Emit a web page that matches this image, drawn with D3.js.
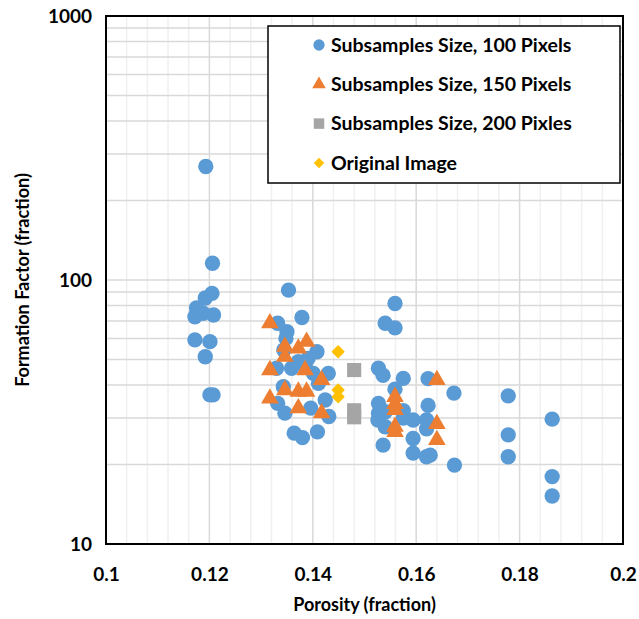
<!DOCTYPE html>
<html>
<head>
<meta charset="utf-8">
<script src="https://cdn.jsdelivr.net/npm/d3@7"></script>
<style>
  html, body { margin: 0; padding: 0; background: #fff; }
  text { font-family: Lato, "Open Sans", sans-serif; font-weight: bold; fill: #000; }
</style>
</head>
<body>
<svg id="chart" width="639" height="619"></svg>
<script>
// Porosity (x) vs formation factor (y) for subsamples of different sizes
const sub100Porosity = [0.1193, 0.1206, 0.1205, 0.1192, 0.1175, 0.1172, 0.1208, 0.1188, 0.1172, 0.1201, 0.1192, 0.1201, 0.1207,
  0.1353, 0.1379, 0.1332, 0.1350, 0.1348, 0.1344, 0.1408, 0.1391, 0.1372, 0.1330, 0.1359, 0.1401, 0.1430, 0.1411, 0.1343,
  0.1332, 0.1346, 0.1396, 0.1424, 0.1431, 0.1364, 0.1380, 0.1409, 0.1385,
  0.1559, 0.1540, 0.1559, 0.1527, 0.1536, 0.1575, 0.1623, 0.1673, 0.1559, 0.1527, 0.1527, 0.1526, 0.1540, 0.1575, 0.1594,
  0.1623, 0.1620, 0.1620, 0.1536, 0.1594, 0.1594, 0.1620, 0.1627, 0.1674, 0.1778, 0.1778, 0.1778, 0.1863, 0.1863, 0.1863,
  0.1575, 0.1540];
const sub100Factor = [269, 115.7, 89.0, 85.5, 78.3, 72.6, 73.7, 74.8, 59.3, 58.4, 51.2, 36.7, 36.7,
  91.6, 72.1, 68.6, 63.7, 60.1, 54.3, 53.5, 50.5, 49.0, 46.3, 46.3, 44.3, 44.3, 40.6, 39.4,
  34.1, 31.3, 32.7, 35.1, 30.4, 26.3, 25.3, 26.6, 47.6,
  81.5, 68.6, 65.9, 46.3, 43.5, 42.4, 42.3, 37.3, 38.6, 34.1, 31.3, 29.5, 27.8, 32.0, 29.5,
  33.5, 29.5, 27.3, 23.7, 25.1, 22.1, 21.4, 21.7, 19.9, 36.4, 25.9, 21.4, 29.7, 18.0, 15.2,
  30.0, 31.7];

const sub150Porosity = [0.1317, 0.1346, 0.1372, 0.1388, 0.1346, 0.1317, 0.1385, 0.1417, 0.1346, 0.1372, 0.1388, 0.1317,
  0.1372, 0.1417, 0.1640, 0.1559, 0.1559, 0.1559, 0.1559, 0.1559, 0.1640, 0.1640];
const sub150Factor = [68.6, 55.9, 55.1, 58.4, 51.2, 45.6, 45.6, 41.8, 38.3, 37.8, 37.8, 35.6,
  32.7, 31.3, 41.8, 36.1, 33.9, 32.2, 27.8, 26.6, 28.5, 24.8];

const sub200Porosity = [0.1480, 0.1480, 0.1480];
const sub200Factor = [45.6, 32.1, 30.2];

const originalPorosity = [0.1449, 0.1449, 0.1449];
const originalFactor = [53.5, 38.3, 36.1];

const seriesNames = ["Subsamples Size, 100 Pixels", "Subsamples Size, 150 Pixels", "Subsamples Size, 200 Pixles", "Original Image"];
const xTicks = [0.1, 0.12, 0.14, 0.16, 0.18, 0.2];
const yTicks = [10, 100, 1000];

const svg = d3.select("#chart");
const plot = { left: 106, right: 623, top: 16, bottom: 544 };

const x = d3.scaleLinear().domain([0.1, 0.2]).range([plot.left, plot.right]);
const y = d3.scaleLog().domain([10, 1000]).range([plot.bottom, plot.top]);

// gridlines
const grid = svg.append("g");
const xMinor = d3.range(0, 26).map(i => 0.1 + i * 0.004).filter(v => v > 0.1001 && v < 0.1999);
grid.selectAll("line.xminor").data(xMinor).join("line")
  .attr("x1", d => x(d)).attr("x2", d => x(d))
  .attr("y1", plot.top).attr("y2", plot.bottom)
  .attr("stroke", d => (Math.abs(Math.round(d * 50) - d * 50) < 1e-6) ? "#d9d9d9" : "#f0f0f0")
  .attr("stroke-width", 1.5);
const yMinor = [];
[10, 100].forEach(dec => { for (let k = 2; k <= 10; k++) yMinor.push(dec * k); });
grid.selectAll("line.yminor").data(yMinor.filter(v => v < 1000)).join("line")
  .attr("x1", plot.left).attr("x2", plot.right)
  .attr("y1", d => y(d)).attr("y2", d => y(d))
  .attr("stroke", "#d9d9d9").attr("stroke-width", 1.5);

// axes (labels only, ticks hidden)
const xAxis = d3.axisBottom(x).tickValues(xTicks).tickSize(0).tickPadding(24)
  .tickFormat(d => d3.format("")(+d.toFixed(2)));
svg.append("g").attr("transform", `translate(0,${plot.bottom})`).call(xAxis)
  .call(g => g.select(".domain").remove())
  .selectAll("text").style("font-size", "19px").attr("font-family", null);

const yAxis = d3.axisLeft(y).tickValues(yTicks).tickSize(0).tickPadding(14)
  .tickFormat(d3.format("d"));
svg.append("g").attr("transform", `translate(${plot.left},0)`).call(yAxis)
  .call(g => g.select(".domain").remove())
  .selectAll("text").style("font-size", "19px").attr("font-family", null);

// plot border
svg.append("rect")
  .attr("x", plot.left).attr("y", plot.top)
  .attr("width", plot.right - plot.left).attr("height", plot.bottom - plot.top)
  .attr("fill", "none").attr("stroke", "#000").attr("stroke-width", 2);

// axis titles
svg.append("text").attr("x", (plot.left + plot.right) / 2).attr("y", 611)
  .attr("text-anchor", "middle").style("font-size", "18px").text("Porosity (fraction)");
svg.append("text").attr("transform", `translate(29,${(plot.top + plot.bottom) / 2}) rotate(-90)`)
  .attr("text-anchor", "middle").style("font-size", "18px").text("Formation Factor (fraction)");

// markers
const series = [
  { xs: sub100Porosity, ys: sub100Factor, shape: d3.symbolCircle, size: 185, color: "#5b9bd5", rot: 0, lsize: 100 },
  { xs: sub150Porosity, ys: sub150Factor, shape: d3.symbolTriangle, size: 135, color: "#ed7d31", rot: 0, lsize: 80 },
  { xs: sub200Porosity, ys: sub200Factor, shape: d3.symbolSquare, size: 200, color: "#a5a5a5", rot: 0, lsize: 110 },
  { xs: originalPorosity, ys: originalFactor, shape: d3.symbolSquare, size: 90, color: "#ffc000", rot: 45, lsize: 55 }
];

series.forEach(s => {
  const pts = s.xs.map((v, i) => [v, s.ys[i]]);
  svg.append("g").selectAll("path").data(pts).join("path")
    .attr("d", d3.symbol().type(s.shape).size(s.size))
    .attr("transform", d => `translate(${x(d[0])},${y(d[1])}) rotate(${s.rot})`)
    .attr("fill", s.color);
});

// legend
const legend = svg.append("g");
legend.append("rect").attr("x", 268).attr("y", 26).attr("width", 352).attr("height", 157)
  .attr("fill", "#fff").attr("stroke", "#000").attr("stroke-width", 1.5);
series.forEach((s, i) => {
  const ly = 45 + i * 39.3;
  legend.append("path")
    .attr("d", d3.symbol().type(s.shape).size(s.lsize))
    .attr("transform", `translate(319,${ly}) rotate(${s.rot})`)
    .attr("fill", s.color);
  legend.append("text").attr("x", 331).attr("y", ly).attr("dy", "0.35em")
    .style("font-size", "19.5px").text(seriesNames[i]);
});
</script>
</body>
</html>
